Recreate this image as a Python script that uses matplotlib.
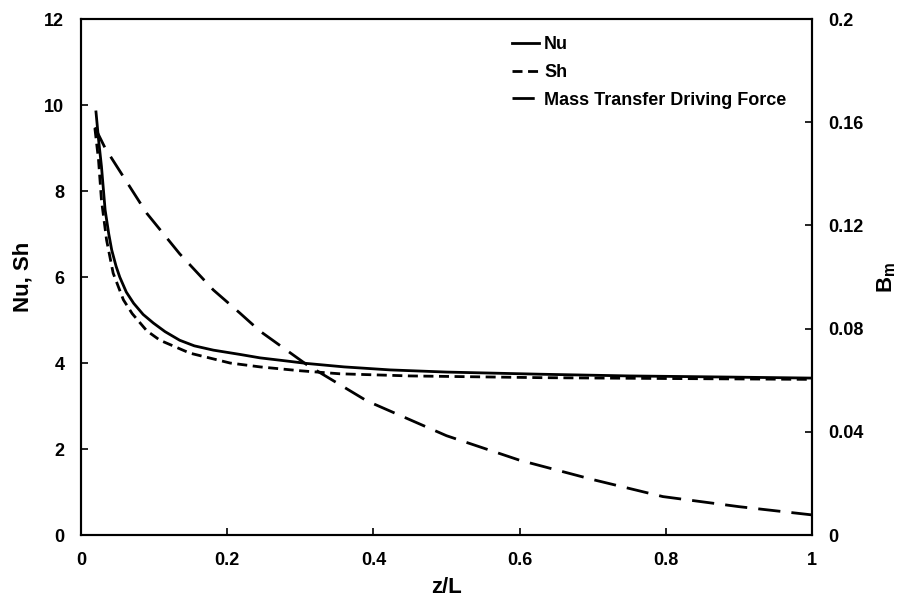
import numpy as np
import matplotlib
matplotlib.use("Agg")
import matplotlib.pyplot as plt

plt.rcParams['font.family'] = ['Liberation Sans', 'DejaVu Sans']
plt.rcParams['font.weight'] = 'bold'
plt.rcParams['axes.labelweight'] = 'bold'

# values
z_nu = [0.0205, 0.024, 0.028, 0.033, 0.038, 0.042, 0.048, 0.053, 0.062, 0.072, 0.085, 0.099,
        0.115, 0.135, 0.155, 0.181, 0.2175, 0.245, 0.28, 0.309, 0.36, 0.423, 0.5, 0.628, 0.75, 0.88, 1.0]
nu = [9.84, 9.2, 8.57, 7.56, 7.0, 6.63, 6.25, 6.0, 5.65, 5.39, 5.13, 4.93,
      4.73, 4.53, 4.40, 4.30, 4.20, 4.12, 4.05, 3.99, 3.91, 3.84, 3.79, 3.74, 3.70, 3.675, 3.65]

z_sh = [0.019, 0.024, 0.028, 0.035, 0.044, 0.058, 0.07, 0.081, 0.09, 0.108, 0.149, 0.204,
        0.245, 0.3, 0.354, 0.45, 0.628, 0.8, 1.0]
sh = [9.46, 8.72, 7.79, 6.86, 6.09, 5.47, 5.15, 4.93, 4.75, 4.53, 4.23, 4.0,
      3.91, 3.82, 3.75, 3.70, 3.66, 3.64, 3.62]

z_bm = [0.019, 0.033, 0.06, 0.09, 0.135, 0.181, 0.2175, 0.245, 0.309, 0.391, 0.5, 0.6, 0.7, 0.796, 0.9, 1.0]
bm = [0.158, 0.150, 0.138, 0.1247, 0.109, 0.095, 0.086, 0.079, 0.066, 0.052, 0.0385, 0.029, 0.0215, 0.0149, 0.011, 0.0078]

fig = plt.figure(figsize=(9.04, 5.99), dpi=100)
ax = fig.add_axes([0.0896, 0.1068, 0.8086, 0.8614])
ax2 = ax.twinx()

l1, = ax.plot(z_nu, nu, color='black', lw=2, label='Nu')
l2, = ax.plot(z_sh, sh, color='black', lw=2, dashes=(3.6, 2), label='Sh')
l3, = ax2.plot(z_bm, bm, color='black', lw=2, dashes=(8, 4), label='Mass Transfer Driving Force')

ax.set_xlim(0, 1)
ax.set_ylim(0, 12)
ax2.set_ylim(0, 0.2)
ax.set_xticks([0, 0.2, 0.4, 0.6, 0.8, 1.0])
ax.set_xticklabels(['0', '0.2', '0.4', '0.6', '0.8', '1'])
ax.set_yticks([0, 2, 4, 6, 8, 10, 12])
ax2.set_yticks([0, 0.04, 0.08, 0.12, 0.16, 0.2])
ax2.set_yticklabels(['0', '0.04', '0.08', '0.12', '0.16', '0.2'])

for a in (ax, ax2):
    a.tick_params(direction='in', length=5, width=1.2, labelsize=13, pad=12)
    for s in a.spines.values():
        s.set_linewidth(1.5)

ax.set_xlabel('z/L', fontsize=16, labelpad=6)
ax.set_ylabel('Nu, Sh', fontsize=16, labelpad=8)
ax2.set_ylabel('B$_\\mathregular{m}$', fontsize=16, labelpad=8)

ax.legend([l1, l2, l3], ['Nu', 'Sh', 'Mass Transfer Driving Force'],
          loc='upper left', bbox_to_anchor=(0.59, 0.967), frameon=False,
          borderpad=0, borderaxespad=0,
          fontsize=13, handlelength=1.5, handletextpad=0.27, labelspacing=0.6)

fig.savefig('out.png', dpi=100)
